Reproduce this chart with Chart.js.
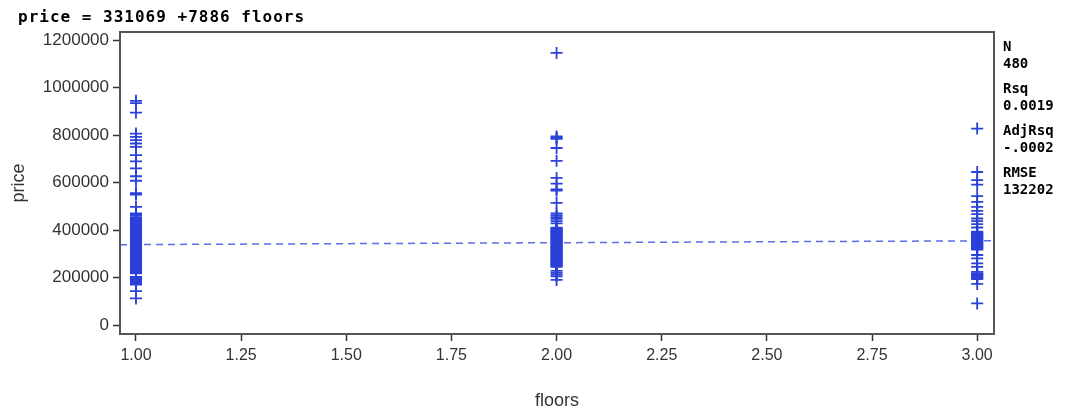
<!DOCTYPE html>
<html>
<head>
<meta charset="utf-8">
<script src="https://cdn.jsdelivr.net/npm/chart.js@4.4.1/dist/chart.umd.min.js"></script>
<style>
  body { margin: 0; background: #fff; }
  #wrap { position: relative; width: 1075px; height: 412px; }
  #fit { position: absolute; left: 18px; top: 7px; font: bold 16px 'DejaVu Sans Mono', monospace; letter-spacing: 1px; color: #000; white-space: pre; }
  #stats { position: absolute; left: 1003px; top: 38px; font: bold 14px 'DejaVu Sans Mono', monospace; line-height: 17px; color: #000; }
  #stats .grp { margin-bottom: 8px; }
</style>
</head>
<body>
<div id="wrap">
  <canvas id="fitChart" width="1075" height="412"></canvas>
  <div id="fit"></div>
  <div id="stats"></div>
</div>
<script>
// 回帰式
const intercept = 331069;
const slope = 7886;

// floors ごとの price
const floors1Prices = [
  945000, 935000, 895000, 807000, 793000, 779000, 765000, 751000, 716000, 690000,
  660000, 627000, 608000, 556000, 550000, 498000, 470000, 466000, 460000,
  452000, 449000, 446000, 443000, 440000, 437000, 434000, 431000, 428000, 425000,
  422000, 419000, 416000, 413000, 410000, 407000, 404000, 401000, 398000, 395000,
  392000, 389000, 386000, 383000, 380000, 377000, 374000, 371000, 368000, 365000,
  362000, 359000, 356000, 353000, 350000, 347000, 344000, 341000, 338000, 335000,
  332000, 329000, 326000, 323000, 320000, 317000, 314000, 311000, 308000, 305000,
  302000, 299000, 296000, 293000, 290000, 287000, 284000, 281000, 278000, 275000,
  272000, 269000, 266000, 263000, 260000, 257000, 254000, 251000, 248000, 245000,
  242000, 239000, 236000, 233000, 230000, 227000, 224000, 221000, 218000,
  203000, 200000, 197000, 194000, 191000, 188000, 185000, 182000, 179000, 176000,
  173000, 170000,
  143000, 112000
];
const floors2Prices = [
  1147000, 795000, 790000, 785000, 746000, 692000, 620000, 596000, 572000, 567000,
  515000, 470000, 462000, 455000, 447000, 438000, 428000,
  410000, 407000, 404000, 401000, 398000, 395000, 392000, 389000, 386000, 383000,
  380000, 377000, 374000, 371000, 368000, 365000, 362000, 359000, 356000, 353000,
  350000, 347000, 344000, 341000, 338000, 335000, 332000, 329000, 326000, 323000,
  320000, 317000, 314000, 311000, 308000, 305000, 302000, 299000, 296000, 293000,
  290000, 287000, 284000, 281000, 278000, 275000, 272000, 269000, 266000, 263000,
  260000, 257000, 254000, 251000, 248000, 245000,
  228000, 220000, 212000, 205000, 190000
];
const floors3Prices = [
  828000, 645000, 611000, 592000, 543000, 519000, 498000, 481000, 467000, 449000,
  438000, 425000, 411000,
  393000, 390000, 387000, 384000, 381000, 378000, 375000, 372000, 369000, 366000,
  363000, 360000, 357000, 354000, 351000, 348000, 345000, 342000, 339000, 336000,
  333000, 330000, 327000, 324000, 321000, 318000,
  295000, 281000, 260000, 245000, 224000,
  218000, 215000, 212000, 209000, 206000, 203000, 200000, 197000, 194000,
  173000, 91000
];

// 回帰直線の両端
const lineFloors = [0.962, 3.04];
const linePrices = [338655, 355042];

// 目盛り
const xTicks = [1.00, 1.25, 1.50, 1.75, 2.00, 2.25, 2.50, 2.75, 3.00];
const yTicks = [0, 200000, 400000, 600000, 800000, 1000000, 1200000];

// 右側の統計量
const statNames = ['N', 'Rsq', 'AdjRsq', 'RMSE'];
const statValues = ['480', '0.0019', '-.0002', '132202'];

document.getElementById('fit').textContent = `price = ${intercept} +${slope} floors`;
document.getElementById('stats').innerHTML = statNames
  .map((n, i) => `<div class="grp">${n}<br>${statValues[i]}</div>`)
  .join('');

const points = [];
floors1Prices.forEach(p => points.push({ x: 1, y: p }));
floors2Prices.forEach(p => points.push({ x: 2, y: p }));
floors3Prices.forEach(p => points.push({ x: 3, y: p }));

// プロット枠
const framePlugin = {
  id: 'frame',
  afterDraw(chart) {
    const { ctx, chartArea: a } = chart;
    ctx.save();
    ctx.strokeStyle = '#555';
    ctx.lineWidth = 2;
    ctx.strokeRect(a.left, a.top, a.right - a.left, a.bottom - a.top);
    ctx.restore();
  }
};

const fontFamily = "'Liberation Sans', Arial, sans-serif";

new Chart(document.getElementById('fitChart').getContext('2d'), {
  type: 'scatter',
  data: {
    datasets: [
      {
        data: points,
        pointStyle: 'cross',
        pointRadius: 6,
        pointBorderWidth: 1.8,
        borderColor: '#2b41d8',
        backgroundColor: '#2b41d8'
      },
      {
        type: 'line',
        data: lineFloors.map((f, i) => ({ x: f, y: linePrices[i] })),
        borderColor: '#5a6ee6',
        borderWidth: 1.5,
        borderDash: [7, 5],
        pointRadius: 0,
        fill: false
      }
    ]
  },
  options: {
    responsive: false,
    animation: false,
    devicePixelRatio: 1,
    layout: { padding: { left: 0, top: 32, right: 81, bottom: 0 } },
    plugins: {
      legend: { display: false },
      tooltip: { enabled: false }
    },
    scales: {
      x: {
        type: 'linear',
        min: 0.962,
        max: 3.04,
        afterFit: s => { s.height = 78; },
        afterBuildTicks: s => { s.ticks = xTicks.map(v => ({ value: v })); },
        grid: { drawOnChartArea: false, tickLength: 7, color: '#333', tickWidth: 1.5 },
        border: { display: false },
        ticks: {
          padding: 5,
          color: '#333',
          font: { family: fontFamily, size: 16 },
          maxRotation: 0,
          callback: v => Number(v).toFixed(2)
        },
        title: {
          display: true,
          text: 'floors',
          color: '#333',
          font: { family: fontFamily, size: 18 },
          padding: { top: 0, bottom: 0 }
        }
      },
      y: {
        type: 'linear',
        min: -37900,
        max: 1235000,
        afterFit: s => { s.width = 120; },
        afterBuildTicks: s => { s.ticks = yTicks.map(v => ({ value: v })); },
        grid: { drawOnChartArea: false, tickLength: 7, color: '#333', tickWidth: 1.5 },
        border: { display: false },
        ticks: {
          padding: 4,
          color: '#333',
          font: { family: fontFamily, size: 17 },
          callback: v => String(v)
        },
        title: {
          display: true,
          text: 'price',
          color: '#333',
          font: { family: fontFamily, size: 18 },
          padding: { top: 8, bottom: 0 }
        }
      }
    }
  },
  plugins: [framePlugin]
});
</script>
</body>
</html>
